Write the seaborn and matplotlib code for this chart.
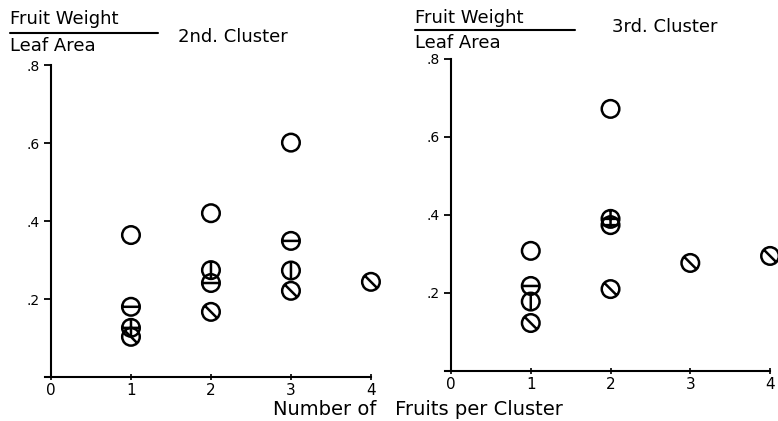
import numpy as np
import pandas as pd
import matplotlib
matplotlib.use("Agg")
import matplotlib.pyplot as plt
from matplotlib.path import Path
import seaborn as sns

sns.set_style("ticks")
plt.rcParams['font.family'] = ['DejaVu Sans']
plt.rcParams['text.color'] = 'black'
plt.rcParams['xtick.color'] = 'black'
plt.rcParams['ytick.color'] = 'black'
plt.rcParams['axes.labelcolor'] = 'black'

# data (x = fruits per cluster, y = fruit weight / leaf area)
# marker kinds: open, hbar (circle with -), vbar (circle with |), cross (circle with +), diag (circle with \)
c2_x = [1, 1, 1, 1, 2, 2, 2, 2, 3, 3, 3, 3, 4]
c2_y = [0.364, 0.180, 0.126, 0.103, 0.420, 0.274, 0.241, 0.167, 0.601, 0.349, 0.273, 0.221, 0.244]
c2_kind = ["open", "hbar", "cross", "diag", "open", "vbar", "hbar", "diag",
           "open", "hbar", "vbar", "diag", "diag"]

c3_x = [1, 1, 1, 1, 2, 2, 2, 2, 3, 4]
c3_y = [0.308, 0.218, 0.178, 0.123, 0.672, 0.390, 0.374, 0.210, 0.277, 0.295]
c3_kind = ["open", "hbar", "vbar", "diag", "open", "cross", "hbar", "diag", "diag", "diag"]

x_ticks = [0, 1, 2, 3, 4]
x_ticklabels = ["0", "1", "2", "3", "4"]
y_ticks = [0.2, 0.4, 0.6, 0.8]
y_ticklabels = [".2", ".4", ".6", ".8"]
panel_titles = ["2nd. Cluster", "3rd. Cluster"]


def circle_with(*segs):
    parts = [Path.unit_circle()]
    for a, b in segs:
        parts.append(Path([a, b], [Path.MOVETO, Path.LINETO]))
    return Path.make_compound_path(*parts)


d = 0.7071
markers = {
    "open": circle_with(),
    "hbar": circle_with(((-1, 0), (1, 0))),
    "vbar": circle_with(((0, -1), (0, 1))),
    "cross": circle_with(((-1, 0), (1, 0)), ((0, -1), (0, 1))),
    "diag": circle_with(((-d, d), (d, -d))),
}
kinds = ["open", "hbar", "vbar", "cross", "diag"]


def draw_panel(ax, xs, ys, ks):
    df = pd.DataFrame({"n": xs, "ratio": ys, "kind": ks})
    sns.scatterplot(data=df, x="n", y="ratio", style="kind", style_order=kinds,
                    markers=markers, s=160, facecolor="none", edgecolor="black",
                    linewidth=1.8, legend=False, ax=ax, clip_on=False, zorder=3)
    ax.set_xlim(-0.08, 4.0)
    ax.set_ylim(0, 0.8)
    ax.spines["left"].set_position(("data", 0))
    ax.spines["top"].set_visible(False)
    ax.spines["right"].set_visible(False)
    for sp in ["left", "bottom"]:
        ax.spines[sp].set_linewidth(1.5)
        ax.spines[sp].set_color("black")
    ax.set_xticks(x_ticks)
    ax.set_xticklabels(x_ticklabels)
    ax.set_yticks(y_ticks)
    ax.set_yticklabels(y_ticklabels)
    ax.tick_params(axis="y", direction="out", length=5, width=1.3, labelsize=10, pad=3)
    ax.tick_params(axis="x", direction="inout", length=5, width=1.2, labelsize=11, pad=2)
    ax.set_xlabel("")
    ax.set_ylabel("")


fig = plt.figure(figsize=(7.78, 4.21), dpi=100)
ax1 = fig.add_axes([0.0573, 0.1045, 0.4195, 0.7411])
ax2 = fig.add_axes([0.5715, 0.1188, 0.4183, 0.7411])

draw_panel(ax1, c2_x, c2_y, c2_kind)
draw_panel(ax2, c3_x, c3_y, c3_kind)

# fraction style y labels and panel titles
fs = 13
fig.text(0.013, 0.955, "Fruit Weight", fontsize=fs, ha="left", va="center")
fig.add_artist(plt.Line2D([0.013, 0.203], [0.922, 0.922], color="black", lw=1.5))
fig.text(0.013, 0.890, "Leaf Area", fontsize=fs, ha="left", va="center")
fig.text(0.229, 0.912, panel_titles[0], fontsize=fs, ha="left", va="center")

fig.text(0.533, 0.957, "Fruit Weight", fontsize=fs, ha="left", va="center")
fig.add_artist(plt.Line2D([0.533, 0.739], [0.928, 0.928], color="black", lw=1.5))
fig.text(0.533, 0.898, "Leaf Area", fontsize=fs, ha="left", va="center")
fig.text(0.787, 0.935, panel_titles[1], fontsize=fs, ha="left", va="center")

fig.text(0.537, 0.028, "Number of   Fruits per Cluster", fontsize=14, ha="center", va="center")

fig.savefig("out.png", dpi=100)
